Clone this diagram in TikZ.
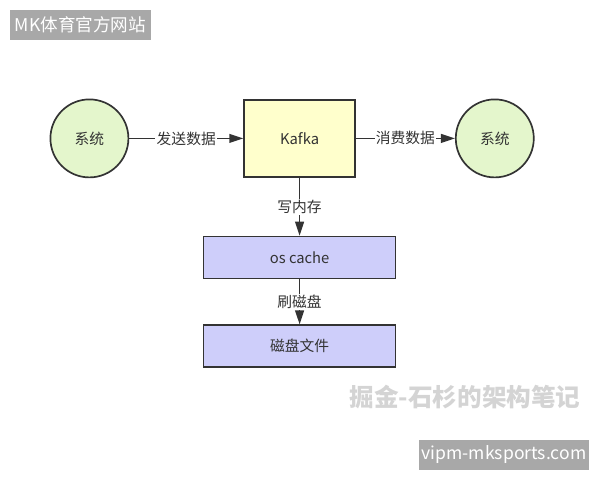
\documentclass[tikz,border=0pt]{standalone}
\usepackage{fontspec}
\setmainfont{Noto Sans CJK SC}
\usetikzlibrary{arrows.meta,positioning}
\definecolor{kfgreen}{RGB}{228,246,204}
\definecolor{kfyellow}{RGB}{255,255,204}
\definecolor{kflavender}{RGB}{206,206,250}
\definecolor{kfline}{RGB}{51,51,51}
\definecolor{kfmark}{RGB}{168,168,168}

\begin{document}
\begin{tikzpicture}[every node/.style={font=\fontsize{10.5}{12}\selectfont,text=kfline},
    sysnode/.style={circle,draw=kfline,line width=1.2pt,fill=kfgreen,minimum size=1.95cm},
    kafkabox/.style={draw=kfline,line width=1.2pt,fill=kfyellow,minimum width=2.775cm,minimum height=1.925cm},
    cachebox/.style={draw=kfline,line width=1.2pt,fill=kflavender,minimum width=4.8cm,minimum height=1.05cm},
    markbox/.style={fill=kfmark,text=white,font=\fontsize{12.5}{14}\selectfont,minimum height=0.75cm,inner sep=0pt},
    flow/.style={-{Triangle[length=3.5mm,width=2.2mm]},line width=1.2pt,draw=kfline},
    flowlabel/.style={midway,fill=white,inner sep=1pt}]
  \useasboundingbox (0,0) rectangle (15,12);
  % main nodes
  \node[kafkabox] (kafka) at (7.49,8.54) {Kafka};
  \node[sysnode,left=2.85cm of kafka] (src) {系统};
  \node[sysnode,right=2.475cm of kafka] (dst) {系统};
  \node[cachebox,below=1.45cm of kafka] (cache) {os cache};
  \node[cachebox,below=1.125cm of cache] (disk) {磁盘文件};
  % connectors
  \draw[flow] (src) -- (kafka) node[flowlabel] {发送数据};
  \draw[flow] (kafka) -- (dst) node[flowlabel] {消费数据};
  \draw[flow] (kafka) -- (cache) node[flowlabel] {写内存};
  \draw[flow] (cache) -- (disk) node[flowlabel] {刷磁盘};
  % watermarks
  \node[markbox,minimum width=3.525cm] (sitemark) at (2.0125,11.375) {MK体育官方网站};
  \node[markbox,minimum width=4.25cm] (urlmark) at (12.6,0.625) {vipm-mksports.com};
  \node[font=\fontsize{17.5}{20}\selectfont\bfseries,text=black!17] (authormark) at (11.625,2.075) {掘金-石杉的架构笔记};
\end{tikzpicture}
\end{document}
